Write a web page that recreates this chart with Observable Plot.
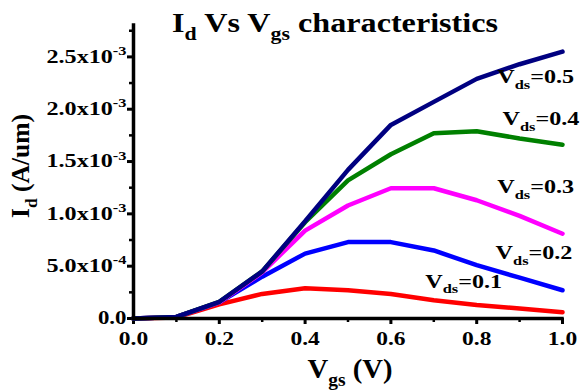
<!DOCTYPE html>
<html><head><meta charset="utf-8">
<script src="https://cdn.jsdelivr.net/npm/d3@7"></script>
<script src="https://cdn.jsdelivr.net/npm/@observablehq/plot@0.6"></script>
<style>
body{margin:0;background:#fff;}
#chart{position:relative;width:587px;height:390px;}
#chart svg text{font-family:"Liberation Serif","Times New Roman",serif;font-weight:bold;fill:#000;}
</style></head><body><div id="chart"></div>
<script>
// ---- data ----
const vgs = [0, 0.1, 0.2, 0.3, 0.4, 0.5, 0.6, 0.7, 0.8, 0.9, 1.0];
const vdsNames = ["0.1", "0.2", "0.3", "0.4", "0.5"];
const id01 = [0, 1.0e-5, 1.35e-4, 2.35e-4, 2.9e-4, 2.7e-4, 2.35e-4, 1.75e-4, 1.3e-4, 9.5e-5, 6.0e-5];
const id02 = [0, 1.5e-5, 1.55e-4, 4.0e-4, 6.2e-4, 7.3e-4, 7.3e-4, 6.5e-4, 5.1e-4, 3.9e-4, 2.7e-4];
const id03 = [0, 1.5e-5, 1.55e-4, 4.4e-4, 8.4e-4, 1.08e-3, 1.245e-3, 1.245e-3, 1.13e-3, 9.8e-4, 8.1e-4];
const id04 = [0, 1.5e-5, 1.6e-4, 4.5e-4, 9.2e-4, 1.32e-3, 1.57e-3, 1.77e-3, 1.79e-3, 1.72e-3, 1.66e-3];
const id05 = [0, 1.5e-5, 1.6e-4, 4.5e-4, 9.3e-4, 1.42e-3, 1.85e-3, 2.07e-3, 2.29e-3, 2.43e-3, 2.55e-3];
const seriesColors = ["#ff0000", "#0000ff", "#ff00ff", "#008000", "#000080"];
const labelX = [0.68, 0.844, 0.848, 0.86, 0.848];
const labelY = [2.95e-4, 5.7e-4, 1.195e-3, 1.85e-3, 2.25e-3];
const xTicks = [0, 0.2, 0.4, 0.6, 0.8, 1.0];
const xTickLabels = ["0.0", "0.2", "0.4", "0.6", "0.8", "1.0"];
const xMinor = [0.1, 0.3, 0.5, 0.7, 0.9];
const yTicks = [0, 5e-4, 1e-3, 1.5e-3, 2e-3, 2.5e-3];
const yTickLabels = ["0.0", "5.0x10^{-4}", "1.0x10^{-3}", "1.5x10^{-3}", "2.0x10^{-3}", "2.5x10^{-3}"];
const yMinor = [2.5e-4, 7.5e-4, 1.25e-3, 1.75e-3, 2.25e-3, 2.75e-3];

const allSeries = [id01, id02, id03, id04, id05];
const rows = allSeries.flatMap((s, k) => s.map((v, i) => ({vgs: vgs[i], id: v, vds: vdsNames[k], color: seriesColors[k]})));
const labels = vdsNames.map((n, k) => ({x: labelX[k], y: labelY[k], text: "V_{ds}=" + n}));

const plot = Plot.plot({
  width: 587, height: 390,
  marginLeft: 133, marginRight: 25, marginTop: 25, marginBottom: 72,
  x: {domain: [0, 1]},
  y: {domain: [0, 2.8e-3]},
  color: {type: "identity"},
  marks: [
    Plot.axisX({ticks: xMinor, tickSize: 4, strokeWidth: 2.5, tickFormat: () => "", label: null}),
    Plot.axisX({ticks: xTicks, tickSize: 6, tickPadding: 7, strokeWidth: 3, fontSize: 18.5,
      tickFormat: d => xTickLabels[xTicks.indexOf(d)], label: null}),
    Plot.axisY({ticks: yMinor, tickSize: 4, strokeWidth: 2.5, tickFormat: () => "", label: null}),
    Plot.axisY({ticks: yTicks, tickSize: 6, tickPadding: 1, strokeWidth: 3, fontSize: 18,
      tickFormat: d => yTickLabels[yTicks.indexOf(d)], label: null}),
    Plot.line(rows, {x: "vgs", y: "id", z: "vds", stroke: "color", strokeWidth: 4.5, strokeLinejoin: "miter"}),
    Plot.ruleX([0], {strokeWidth: 3.5, strokeLinecap: "square"}),
    Plot.ruleY([0], {strokeWidth: 3.5, strokeLinecap: "square"}),
    Plot.text(labels, {x: "x", y: "y", text: "text", textAnchor: "start", lineAnchor: "bottom", fontSize: 19})
  ]
});
document.getElementById("chart").append(plot);
const svg = plot.tagName.toLowerCase() === "svg" ? plot : plot.querySelector("svg");
const NS = "http://www.w3.org/2000/svg";

function rich(el) {
  const s = el.textContent;
  if (!/[_^]\{/.test(s)) return;
  const fs = parseFloat(getComputedStyle(el).fontSize);
  const parts = []; const re = /([_^])\{([^}]*)\}/g; let last = 0, m;
  while ((m = re.exec(s))) {
    if (m.index > last) parts.push({t: s.slice(last, m.index), k: ""});
    parts.push({t: m[2], k: m[1]}); last = re.lastIndex;
  }
  if (last < s.length) parts.push({t: s.slice(last), k: ""});
  el.textContent = "";
  let cur = 0;
  for (const p of parts) {
    const ts = document.createElementNS(NS, "tspan");
    const target = p.k === "_" ? 0.3 * fs : p.k === "^" ? -0.42 * fs : 0;
    if (target !== cur) ts.setAttribute("dy", (target - cur) + "px");
    cur = target;
    if (p.k) ts.setAttribute("font-size", (0.68 * fs) + "px");
    ts.textContent = p.t;
    el.appendChild(ts);
  }
}
function stretch(el, len) {
  el.setAttribute("textLength", len);
  el.setAttribute("lengthAdjust", "spacingAndGlyphs");
}
svg.querySelectorAll("text").forEach(el => {
  const s = el.textContent;
  if (!s) return;
  const isSci = s.includes("x10");
  rich(el);
  const w = el.getComputedTextLength();
  stretch(el, isSci ? 80 : w * 1.27);
});

function addText(str, x, y, size, len, rotate) {
  const t = document.createElementNS(NS, "text");
  t.setAttribute("transform", `translate(${x},${y})` + (rotate ? ` rotate(${rotate})` : ""));
  t.setAttribute("text-anchor", "middle");
  t.setAttribute("font-size", size);
  t.textContent = str;
  svg.appendChild(t);
  rich(t);
  stretch(t, len);
  return t;
}
addText("I_{d} Vs V_{gs} characteristics", 335, 32, 27, 326);
addText("V_{gs} (V)", 350, 378, 27, 85);
addText("I_{d} (A/um)", 29, 166, 25, 104, -90);
</script></body></html>
